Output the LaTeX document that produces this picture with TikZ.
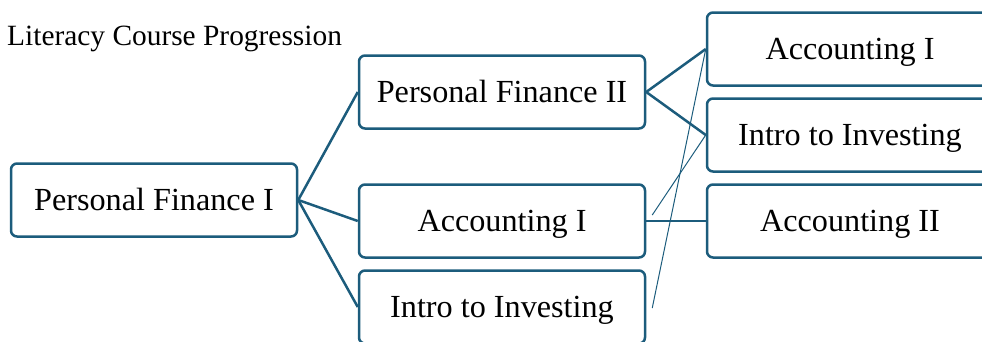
\documentclass[tikz,border=0pt]{standalone}
\usepackage{fontspec}
\setmainfont{Liberation Serif}
\definecolor{edgeblue}{RGB}{28,92,124}
\begin{document}
\begin{tikzpicture}[x=1pt,y=-1pt,
  box/.style={draw=edgeblue,line width=2.5pt,rounded corners=6pt,fill=white,
    minimum width=286pt,minimum height=73pt,inner sep=0pt,text height=21pt,text depth=0pt,
    font=\fontsize{32.2}{36}\selectfont},
  link/.style={draw=edgeblue,line width=2.5pt},
  thin/.style={draw=edgeblue,line width=1pt}]
\useasboundingbox (0,0) rectangle (982,341);
\clip (0,0) rectangle (982,341);
\node[anchor=base west,font=\fontsize{29.4}{34}\selectfont,inner sep=0pt] (title) at (7,45) {Literacy Course Progression};
\node[box] (pf1) at (154,200) {Personal Finance I};
\node[box] (pf2) at (502,92) {Personal Finance II};
\node[box] (acc1) at (502,221) {Accounting I};
\node[box] (intro) at (502,307) {Intro to Investing};
\node[box] (racc1) at (850,49) {Accounting I};
\node[box] (rintro) at (850,135) {Intro to Investing};
\node[box] (racc2) at (850,221) {Accounting II};
\draw[link] (pf1.east) -- (pf2.west);
\draw[link] (pf1.east) -- (acc1.west);
\draw[link] (pf1.east) -- (intro.west);
\draw[link] (pf2.east) -- (racc1.west);
\draw[link] (pf2.east) -- (rintro.west);
\draw[link] (acc1.east) -- (racc2.west);
\coordinate (a1) at ([shift={(6,-6)}]acc1.east);
\coordinate (i1) at ([shift={(6,1)}]intro.east);
\draw[thin] (a1) -- (rintro.west);
\draw[thin] (i1) -- (racc1.west);
\end{tikzpicture}
\end{document}
